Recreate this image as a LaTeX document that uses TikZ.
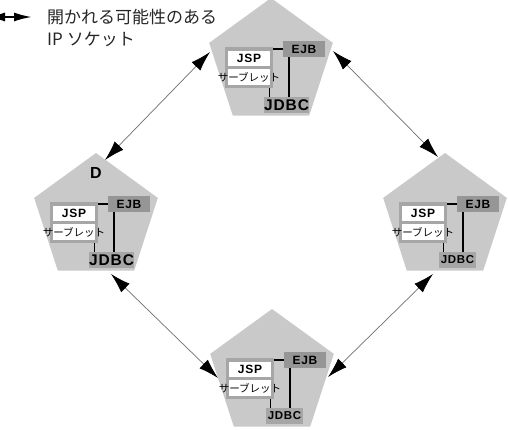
\documentclass[tikz,border=0pt]{standalone}
\usepackage{fontspec}
\usetikzlibrary{shapes.geometric,arrows.meta}
\newfontfamily\cjkfont{Noto Sans CJK JP}
\newfontfamily\labfont[LetterSpace=6]{Liberation Sans Bold}
\definecolor{pentagray}{RGB}{201,201,201}
\definecolor{framegray}{RGB}{166,166,166}
\definecolor{ejbgray}{RGB}{150,150,150}
\definecolor{jdbcgray}{RGB}{166,166,166}
\definecolor{linegray}{RGB}{110,110,110}
\tikzset{
  penta/.style={regular polygon, regular polygon sides=5, minimum size=130pt,
    inner sep=0pt, outer sep=0pt, fill=pentagray, draw=none},
  framebox/.style={fill=framegray, minimum width=48pt, minimum height=41pt, inner sep=0pt},
  whitebox/.style={fill=white, minimum width=42pt, inner sep=0pt},
  ejbbox/.style={fill=ejbgray, minimum width=42pt, minimum height=16pt, inner sep=0pt,
    font=\labfont\fontsize{12}{12}\selectfont},
  jdbcbox/.style={fill=jdbcgray, inner sep=0pt},
  conn/.style={draw=black, line width=1.1pt},
  socket/.style={draw=linegray, line width=0.7pt,
    {Latex[length=20pt,width=12pt,black]}-{Latex[length=20pt,width=12pt,black]}},
  pics/server/.style 2 args={code={
    \node[framebox] (-frame) at (-22,4.5) {};
    \node[whitebox, minimum height=15pt, font=\labfont\fontsize{12}{12}\selectfont] (-jsp) at (-22,-4.5) {JSP};
    \node[whitebox, minimum height=16pt] (-srv) at (-22,14) {};
    \node[inner sep=0pt, font=\cjkfont\fontsize{10.5}{10.5}\selectfont] (-srvt) at (-22,14) {サーブレット};
    \node[ejbbox] (-ejb) at (33,-14) {EJB};
    \node[jdbcbox, minimum width=#1pt, minimum height=16pt,
      font=\labfont\fontsize{#2}{#2}\selectfont] (-jdbc) at ({-6+#1/2},42) {JDBC};
    \coordinate (-a) at (18,0);
    \coordinate (-b) at (-1.7,0);
    \draw[conn] (-frame.east |- -ejb.west) -- (-ejb.west);
    \draw[conn] (-a |- -ejb.south) -- (-a |- -jdbc.north);
    \draw[conn] (-b |- -frame.south) -- (-b |- -jdbc.north);
  }}
}
\begin{document}
\begin{tikzpicture}[x=1pt,y=-1pt]
\useasboundingbox (0,0) rectangle (508,430);
% pentagons
\node[penta] (top) at (271,63) {};
\node[penta] (left) at (96,218) {};
\node[penta] (right) at (445,218) {};
\node[penta] (bot) at (272,374) {};
% contents
\pic (ts) at (271,63) {server={43}{15.5}};
\pic (ls) at (96,218) {server={43}{15.5}};
\pic (rs) at (445,218) {server={37}{11.5}};
\pic (bs) at (272,374) {server={37}{11.5}};
\node[font=\labfont\fontsize{16}{16}\selectfont, inner sep=0pt] (dlab) at (96,173) {D};
% socket arrows
\coordinate (a1s) at (105,160); \coordinate (a1e) at (210,52);
\coordinate (a2s) at (333,51);  \coordinate (a2e) at (438,157);
\coordinate (a3s) at (111,274); \coordinate (a3e) at (218,378);
\coordinate (a4s) at (433,274); \coordinate (a4e) at (328,377);
\draw[socket] (a1s) -- (a1e);
\draw[socket] (a2s) -- (a2e);
\draw[socket] (a3s) -- (a3e);
\draw[socket] (a4s) -- (a4e);
% legend
\coordinate (lg1) at (-13,17); \coordinate (lg2) at (32,17);
\draw[line width=2pt, {Latex[length=18pt,width=9pt]}-{Latex[length=18pt,width=9pt]}] (lg1) -- (lg2);
\node[anchor=west, inner sep=0pt, text=black!85, font=\cjkfont\fontsize{17}{21.5}\selectfont, align=left]
  (legend) at (47,28) {開かれる可能性のある\\IP ソケット};
\end{tikzpicture}
\end{document}
